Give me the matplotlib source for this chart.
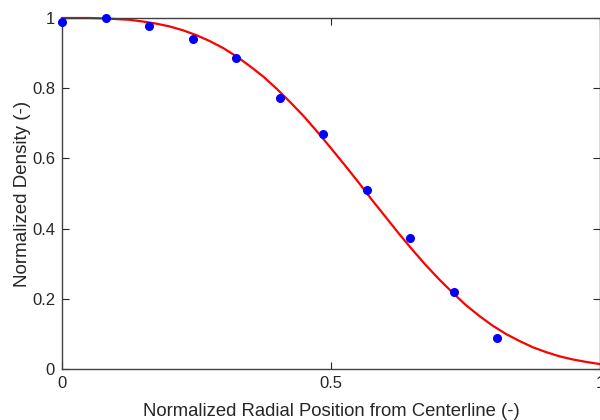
import numpy as np
import matplotlib
matplotlib.use("Agg")
import matplotlib.pyplot as plt

plt.rcParams['font.family'] = ['Liberation Sans', 'DejaVu Sans']

# measured points
r_meas = [0.0, 0.081, 0.162, 0.243, 0.323, 0.405, 0.485, 0.567, 0.647, 0.729, 0.809]
rho_meas = [0.989, 1.0, 0.977, 0.940, 0.886, 0.772, 0.670, 0.510, 0.373, 0.219, 0.089]

# fitted curve
r_fit = [0.0, 0.025, 0.05, 0.075, 0.10, 0.125, 0.15, 0.175, 0.20, 0.225, 0.25,
         0.275, 0.30, 0.325, 0.35, 0.375, 0.40, 0.425, 0.45, 0.475, 0.50,
         0.525, 0.55, 0.575, 0.60, 0.625, 0.65, 0.675, 0.70, 0.725, 0.75,
         0.775, 0.80, 0.825, 0.85, 0.875, 0.90, 0.925, 0.95, 0.975, 1.00]
rho_fit = [1.0, 1.0, 1.0, 0.999, 0.997, 0.995, 0.990, 0.984, 0.976, 0.965, 0.951,
           0.934, 0.914, 0.890, 0.862, 0.832, 0.797, 0.759, 0.719, 0.675, 0.629,
           0.582, 0.534, 0.484, 0.436, 0.388, 0.342, 0.298, 0.257, 0.219, 0.183,
           0.152, 0.124, 0.100, 0.080, 0.062, 0.048, 0.036, 0.027, 0.020, 0.014]

x_ticks = [0, 0.5, 1]
y_ticks = [0, 0.2, 0.4, 0.6, 0.8, 1]

ax_color = '#262626'

fig = plt.figure(figsize=(6, 4.2), dpi=100)
ax = fig.add_axes([62 / 600, 1 - 369 / 420, 538 / 600, 351 / 420])

ax.plot(r_fit, rho_fit, color='red', lw=1.6, clip_on=False, zorder=2)
ax.plot(r_meas, rho_meas, 'o', color='blue', ms=5.5, mec='blue', clip_on=False, zorder=3)

ax.set_xlim(0, 1)
ax.set_ylim(0, 1)
ax.set_xticks(x_ticks)
ax.set_xticklabels(['0', '0.5', '1'])
ax.set_yticks(y_ticks)
ax.set_yticklabels(['0', '0.2', '0.4', '0.6', '0.8', '1'])
ax.tick_params(direction='in', length=5, width=0.8, colors=ax_color, labelsize=12,
               top=True, right=True, pad=5)
for s in ax.spines.values():
    s.set_color('#404040')
    s.set_linewidth(1.0)

ax.set_xlabel('Normalized Radial Position from Centerline (-)', fontsize=13.3, color=ax_color, labelpad=9)
ax.set_ylabel('Normalized Density (-)', fontsize=13.5, color=ax_color, labelpad=1)

fig.savefig('out.png', dpi=100)
